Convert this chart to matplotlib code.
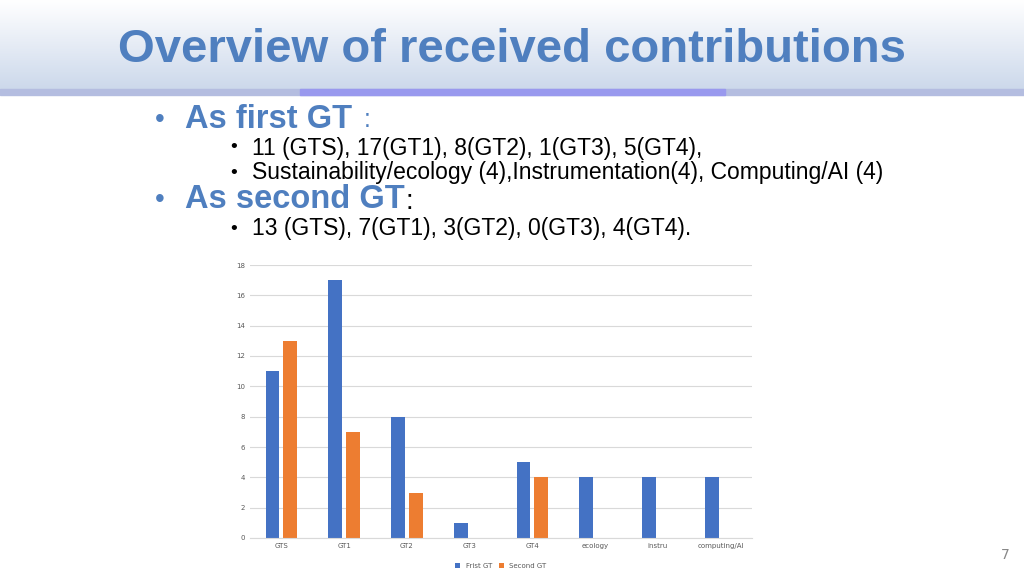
import matplotlib.pyplot as plt
import numpy as np
from matplotlib.patches import Rectangle

categories = ["GTS", "GT1", "GT2", "GT3", "GT4", "ecology", "instru", "computing/AI"]
first_gt = [11, 17, 8, 1, 5, 4, 4, 4]
second_gt = [13, 7, 3, 0, 4, 0, 0, 0]
yticks = [0, 2, 4, 6, 8, 10, 12, 14, 16, 18]

fig = plt.figure(figsize=(10.24, 5.76), dpi=100)
fig.patch.set_facecolor("white")

bg = fig.add_axes([0, 1 - 95/576, 1, 95/576])
grad = np.linspace(0, 1, 100).reshape(-1, 1)
bg.imshow(grad, aspect="auto", cmap=plt.matplotlib.colors.LinearSegmentedColormap.from_list("g", ["#c9d6ea", "#ffffff"]),
          extent=[0, 1, 0, 1], origin="lower")
bg.set_axis_off()
fig.patches.append(Rectangle((0, 1 - 95/576), 1, 6/576, transform=fig.transFigure, color="#b4bde0"))
fig.patches.append(Rectangle((300/1024, 1 - 95/576), 425/1024, 6/576, transform=fig.transFigure, color="#9999ee"))

fig.text(512/1024, 1 - 50/576, "Overview of received contributions", ha="center", va="center",
         fontsize=34, fontweight="bold", color="#4f7fbf", family="Liberation Sans")

def t(x, y, s, size, color="black", bold=False):
    fig.text(x/1024, 1 - y/576, s, ha="left", va="center", fontsize=size, color=color,
             fontweight="bold" if bold else "normal", family="Liberation Sans")

t(155, 120, "•", 20, "#4f7fbf")
t(185, 120, "As first GT", 23.5, "#4f7fbf", True)
t(364, 120, ":", 18, "#4f7fbf")
t(230, 148, "•", 14)
t(252, 148, "11 (GTS), 17(GT1), 8(GT2), 1(GT3), 5(GT4),", 16.5)
t(230, 173, "•", 14)
t(252, 173, "Sustainability/ecology (4),Instrumentation(4), Computing/AI (4)", 16.5)
t(155, 200, "•", 20, "#4f7fbf")
t(185, 200, "As second GT", 23.5, "#4f7fbf", True)
t(405, 202, ":", 20, "black")
t(230, 229, "•", 14)
t(252, 229, "13 (GTS), 7(GT1), 3(GT2), 0(GT3), 4(GT4).", 16.5)
fig.text(1005/1024, 1 - 555/576, "7", fontsize=10, color="#888888", ha="center", va="center")

ax = fig.add_axes([250/1024, 38/576, 502/1024, 273/576])
x = np.arange(len(categories))
w = 0.22
ax.bar(x - 0.14, first_gt, w, color="#4472c4", label="Frist GT")
ax.bar(x + 0.14, second_gt, w, color="#ed7d31", label="Second GT")
ax.set_ylim(0, 18)
ax.set_xlim(-0.5, len(categories) - 0.5)
ax.set_yticks(yticks)
ax.set_xticks(x)
ax.set_xticklabels(categories)
ax.tick_params(labelsize=5, colors="#595959", length=0)
ax.yaxis.grid(True, color="#d9d9d9", lw=0.8)
ax.set_axisbelow(True)
for s in ["top", "right", "left"]:
    ax.spines[s].set_visible(False)
ax.spines["bottom"].set_color("#d9d9d9")
ax.legend(loc="upper center", bbox_to_anchor=(0.5, -0.07), ncol=2, frameon=False, fontsize=5,
          handlelength=0.7, handleheight=0.7, columnspacing=1.0, labelcolor="#595959")

fig.savefig("out.png", dpi=100)
